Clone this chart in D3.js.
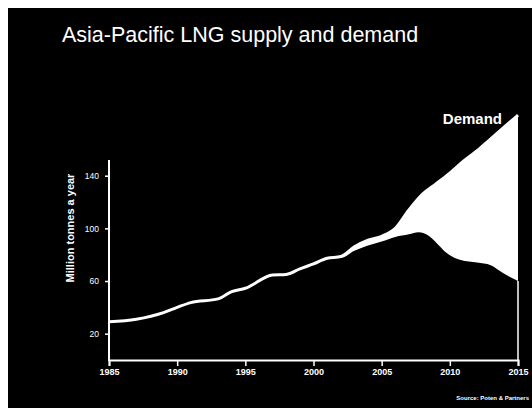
<!DOCTYPE html>
<html>
<head>
<meta charset="utf-8">
<script src="https://cdn.jsdelivr.net/npm/d3@7"></script>
<style>
  html, body { margin: 0; padding: 0; background: #fff; }
  svg { display: block; }
  text { font-family: "Liberation Sans", Arial, sans-serif; }
</style>
</head>
<body>
<svg id="chart" width="532" height="408"></svg>
<script>
// Asia-Pacific LNG demand and supply, million tonnes a year
const demandYears = [1985, 1987, 1989, 1990, 1991, 1993, 1994, 1995, 1997, 1998, 1999, 2000, 2001, 2002, 2003, 2004, 2005, 2006, 2007, 2008, 2009, 2010, 2011, 2012, 2013, 2014, 2015];
const demandValues = [29, 31, 36, 40, 43.6, 46.4, 52, 54.5, 64.6, 65, 69.2, 73, 77.3, 78.6, 86, 91, 94, 100, 114, 126, 134, 142, 151, 159, 168, 177, 186];

const supplyYears = [1985, 1987, 1989, 1990, 1991, 1993, 1994, 1995, 1997, 1998, 1999, 2000, 2001, 2002, 2003, 2004, 2005, 2006, 2007, 2007.7, 2008.5, 2009.2, 2009.8, 2010.8, 2012, 2013, 2013.9, 2015];
const supplyValues = [29, 31, 36, 40, 43.6, 46.4, 52, 54.5, 64.6, 65, 69.2, 73, 77.3, 77.5, 83, 87, 90, 93.5, 95.5, 97, 94, 87, 81, 76, 74, 72, 66, 60];

const xTicks = [1985, 1990, 1995, 2000, 2005, 2010, 2015];
const yTicks = [20, 60, 100, 140];

const svg = d3.select("#chart");

// white margin on top/left, black card behind the chart
svg.append("rect").attr("width", 532).attr("height", 408).attr("fill", "#fff");
svg.append("rect").attr("x", 8).attr("y", 8).attr("width", 524).attr("height", 400).attr("fill", "#000");

const x = d3.scaleLinear().domain([1985, 2015]).range([109, 518]);
const y = d3.scaleLinear().domain([0, 140]).range([360, 175.7]);

const demand = demandYears.map((yr, i) => ({ yr, v: demandValues[i] }));
const supply = supplyYears.map((yr, i) => ({ yr, v: supplyValues[i] }));

const curve = d3.curveMonotoneX;
const line = d3.line().x(d => x(d.yr)).y(d => y(d.v)).curve(curve);

// shortfall band between supply and demand
const demandPath = line(demand);
const supplyRev = line(supply.slice().reverse());
svg.append("path")
  .attr("d", demandPath + "L" + supplyRev.slice(1) + "Z")
  .attr("fill", "#fff");

// demand line
svg.append("path")
  .attr("d", demandPath)
  .attr("fill", "none")
  .attr("stroke", "#fff")
  .attr("stroke-width", 3);

// axes
const xAxis = d3.axisBottom(x).tickValues(xTicks).tickFormat(d3.format("d")).tickSize(6).tickPadding(3);
const gx = svg.append("g").attr("transform", "translate(0,360)").call(xAxis);
gx.select(".domain").attr("stroke", "#fff").attr("stroke-width", 2);
gx.selectAll(".tick line").attr("stroke", "#fff").attr("stroke-width", 1.5);
gx.selectAll(".tick text").attr("fill", "#fff").attr("font-size", 9).attr("font-weight", "bold");

const yAxis = d3.axisLeft(y).tickValues(yTicks).tickSize(4).tickPadding(6);
const gy = svg.append("g").attr("transform", "translate(109,0)").call(yAxis);
gy.select(".domain").remove();
gy.selectAll(".tick line").attr("stroke", "#fff").attr("stroke-width", 1.5);
gy.selectAll(".tick text").attr("fill", "#fff").attr("font-size", 8.5);

svg.append("line").attr("x1", 109).attr("x2", 109).attr("y1", 160).attr("y2", 361)
  .attr("stroke", "#fff").attr("stroke-width", 2);
svg.append("line").attr("x1", 518).attr("x2", 518).attr("y1", y(supplyValues[supplyValues.length - 1])).attr("y2", 361)
  .attr("stroke", "#fff").attr("stroke-width", 1.5);

// text
svg.append("text").attr("x", 62).attr("y", 42).attr("fill", "#fff")
  .attr("font-size", 21.5).text("Asia-Pacific LNG supply and demand");

svg.append("text").attr("x", 502).attr("y", 124).attr("text-anchor", "end").attr("fill", "#fff")
  .attr("font-size", 15).attr("font-weight", "bold").text("Demand");

svg.append("text").attr("transform", "translate(74,228) rotate(-90)")
  .attr("text-anchor", "middle").attr("fill", "#fff")
  .attr("font-size", 11).attr("font-weight", "bold").text("Million tonnes a year");

svg.append("text").attr("x", 529).attr("y", 400).attr("text-anchor", "end").attr("fill", "#fff")
  .attr("font-size", 6).attr("font-weight", "bold").text("Source: Poten & Partners");
</script>
</body>
</html>
